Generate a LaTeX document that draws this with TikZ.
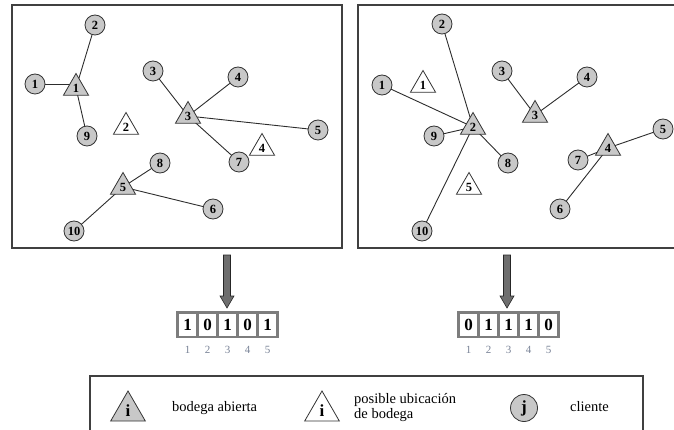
\documentclass[tikz,border=0pt]{standalone}
\usepackage{fontspec}
\setmainfont{Liberation Serif}
\usetikzlibrary{shapes.geometric,backgrounds}
\definecolor{nodegray}{RGB}{200,200,200}
\definecolor{framegray}{RGB}{64,64,64}
\definecolor{linegray}{RGB}{45,45,45}
\definecolor{arrowgray}{RGB}{110,110,110}
\definecolor{cellgray}{RGB}{125,125,125}
\definecolor{idxcol}{RGB}{120,130,150}
\begin{document}
\begin{tikzpicture}[x=1pt,y=-1pt,
  client/.style={circle,draw=black!80,line width=0.8pt,fill=nodegray,minimum size=20pt,inner sep=0pt,font=\fontsize{12.5}{12.5}\selectfont\bfseries},
  openfac/.style={regular polygon,regular polygon sides=3,draw=black!80,line width=0.8pt,fill=nodegray,minimum size=29pt,inner sep=0pt,font=\fontsize{12.5}{12.5}\selectfont\bfseries},
  posfac/.style={openfac,fill=white},
  link/.style={draw=linegray,line width=0.9pt},
  frame/.style={draw=framegray,line width=2pt},
  bitcell/.style={rectangle,fill=white,minimum width=17pt,minimum height=22pt,inner sep=0pt,font=\fontsize{17}{17}\selectfont\bfseries},
  idx/.style={text=idxcol,font=\fontsize{11}{11}\selectfont,inner sep=0pt},
  downarrow/.style={fill=arrowgray,draw=black!85,line width=0.6pt},
  legtext/.style={font=\fontsize{14.5}{15}\selectfont,inner sep=0pt,align=left}
]
\useasboundingbox (0,0) rectangle (674,430);

% frames
\draw[frame] (12,5) rectangle (342,248);
\draw[frame] (358,5) rectangle (680,248);

% ---------- left panel ----------
\node[client] (La2) at (95,25) {2};
\node[client] (La1) at (35,84) {1};
\node[openfac] (LF1) at (76,88) {1};
\node[client] (La9) at (87,136) {9};
\node[posfac] (LF2) at (126,127) {2};
\node[client] (La3) at (153,71) {3};
\node[client] (La4) at (238,77) {4};
\node[openfac] (LF3) at (188,116) {3};
\node[client] (La5) at (318,130) {5};
\node[posfac] (LF4) at (262,148) {4};
\node[client] (La7) at (239,162) {7};
\node[client] (La8) at (160,163) {8};
\node[openfac] (LF5) at (123,187) {5};
\node[client] (La6) at (213,209) {6};
\node[client] (La10) at (74,231) {10};

% ---------- right panel ----------
\node[client] (Ra2) at (442,24) {2};
\node[client] (Ra1) at (382,85) {1};
\node[posfac] (RF1) at (423,85) {1};
\node[client] (Ra3) at (502,71) {3};
\node[client] (Ra4) at (587,77) {4};
\node[openfac] (RF3) at (535,115) {3};
\node[openfac] (RF2) at (473,127) {2};
\node[client] (Ra9) at (434,136) {9};
\node[client] (Ra8) at (508,163) {8};
\node[posfac] (RF5) at (469,187) {5};
\node[client] (Ra10) at (422,231) {10};
\node[client] (Ra5) at (663,129) {5};
\node[openfac] (RF4) at (608,148) {4};
\node[client] (Ra7) at (578,160) {7};
\node[client] (Ra6) at (560,209) {6};

\begin{scope}[on background layer]
  \draw[link] (La1.center) -- (LF1.center |- La1.center);
  \foreach \c in {La2,La9} \draw[link] (\c.center) -- (LF1.center);
  \foreach \c in {La3,La4,La5,La7} \draw[link] (\c.center) -- (LF3.center);
  \foreach \c in {La8,La6,La10} \draw[link] (\c.center) -- (LF5.center);
  \foreach \c in {Ra1,Ra2,Ra9,Ra8,Ra10} \draw[link] (\c.center) -- (RF2.center);
  \foreach \c in {Ra3,Ra4} \draw[link] (\c.center) -- (RF3.center);
  \foreach \c in {Ra5,Ra7,Ra6} \draw[link] (\c.center) -- (RF4.center);
\end{scope}

% ---------- arrows ----------
\foreach \ax in {227,507}
  \draw[downarrow] (\ax-3.5,255) -- (\ax+3.5,255) -- (\ax+3.5,296) -- (\ax+7,296)
     -- (\ax,308) -- (\ax-7,296) -- (\ax-3.5,296) -- cycle;

% ---------- bit strings ----------
\fill[cellgray] (176,311) rectangle (279,338);
\fill[cellgray] (457,311) rectangle (560,338);
\foreach \b [count=\i] in {1,0,1,0,1} {
  \node[bitcell] (Lb\i) at (167.5+20*\i,324.5) {\b};
  \node[idx] at (167.5+20*\i,350) {\i};
}
\foreach \b [count=\i] in {0,1,1,1,0} {
  \node[bitcell] (Rb\i) at (448.5+20*\i,324.5) {\b};
  \node[idx] at (448.5+20*\i,350) {\i};
}

% ---------- legend ----------
\draw[frame] (90,376) rectangle (643,436);
\node[openfac,minimum size=40pt,font=\fontsize{17}{17}\selectfont\bfseries] (Lg1) at (128,411) {i};
\node[legtext,anchor=west] (Lt1) at (172,408) {bodega abierta};
\node[posfac,minimum size=40pt,font=\fontsize{17}{17}\selectfont\bfseries] (Lg2) at (322,411) {i};
\node[legtext,anchor=west] (Lt2) at (354,408) {posible ubicación\\de bodega};
\node[client,minimum size=27pt,font=\fontsize{17}{17}\selectfont\bfseries] (Lg3) at (524,408) {j};
\node[legtext,anchor=west] (Lt3) at (570,407) {cliente};
\end{tikzpicture}
\end{document}
